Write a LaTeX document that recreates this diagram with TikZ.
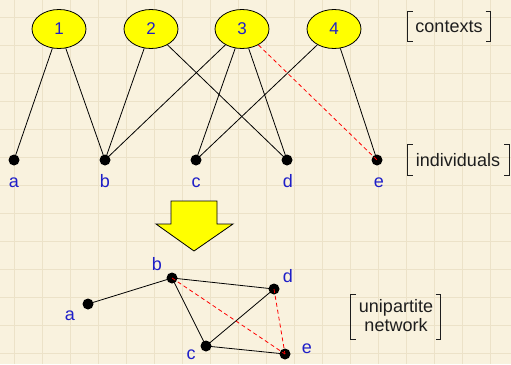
\documentclass[tikz,border=0pt]{standalone}
\usepackage{fontspec}
\setmainfont{Liberation Sans}
\usetikzlibrary{shapes.geometric}
\definecolor{paper}{RGB}{249,242,222}
\definecolor{gridc}{RGB}{236,226,200}
\definecolor{lblue}{RGB}{30,30,200}
\definecolor{txt}{RGB}{30,30,30}
\definecolor{ctxyellow}{RGB}{255,255,0}
\begin{document}
\begin{tikzpicture}[x=1pt,y=-1pt,
  ctx/.style={ellipse,draw=black,line width=0.8pt,fill=ctxyellow,minimum width=54pt,minimum height=39pt,inner sep=0pt,text=lblue,font=\fontsize{17}{19}\selectfont},
  dot/.style={circle,fill=black,minimum size=11pt,inner sep=0pt},
  lbl/.style={text=lblue,font=\fontsize{18}{20}\selectfont,inner sep=0pt,anchor=base},
  tag/.style={text=txt,font=\fontsize{18}{20}\selectfont,inner sep=0pt,align=center},
  edge/.style={black,line width=0.8pt},
  redge/.style={red,line width=0.8pt,dash pattern=on 4pt off 3pt},
  brk/.style={txt,line width=1pt}]
\fill[paper] (0,0) rectangle (511,364);
\useasboundingbox (0,0) rectangle (511,364);
\foreach \gx in {14,42,...,511} \draw[gridc,line width=0.6pt] (\gx,0) -- (\gx,364);
\foreach \gy in {17,45,...,364} \draw[gridc,line width=0.6pt] (0,\gy) -- (511,\gy);

% contexts
\node[ctx] (c1) at (59,29) {1};
\node[ctx] (c2) at (151,29) {2};
\node[ctx] (c3) at (242,29) {3};
\node[ctx] (c4) at (334,29) {4};

% individuals
\node[dot] (ia) at (14,160) {};
\node[dot] (ib) at (105,160) {};
\node[dot] (ic) at (196,160) {};
\node[dot] (id) at (287,160) {};
\node[dot] (ie) at (377,160) {};
\node[lbl] (la) at (14,187) {a};
\node[lbl] (lb) at (105,187) {b};
\node[lbl] (lc) at (196,187) {c};
\node[lbl] (ld) at (288,187) {d};
\node[lbl] (le) at (379,187) {e};

\draw[edge] (c1) -- (ia.center);
\draw[edge] (c1) -- (ib.center);
\draw[edge] (c2) -- (ib.center);
\draw[edge] (c2) -- (id.center);
\draw[edge] (c3) -- (ib.center);
\draw[edge] (c3) -- (ic.center);
\draw[edge] (c3) -- (id.center);
\draw[edge] (c4) -- (ic.center);
\draw[edge] (c4) -- (ie.center);
\draw[redge] (c3) -- (ie.center);

% tags
\node[tag] (tctx) at (449,27) {contexts};
\draw[brk] (412.5,11) -- (407.3,11) -- (407.3,41) -- (412.5,41);
\draw[brk] (485.5,11) -- (490.7,11) -- (490.7,41) -- (485.5,41);
\node[tag] (tind) at (458,160) {individuals};
\draw[brk] (412.5,144) -- (407.3,144) -- (407.3,175) -- (412.5,175);
\draw[brk] (504,144) -- (509.3,144) -- (509.3,175) -- (504,175);
\node[tag] (tuni) at (396,316) {unipartite\\[-1pt]network};
\draw[brk] (356,294) -- (350.7,294) -- (350.7,339) -- (356,339);
\draw[brk] (435.5,294) -- (440.7,294) -- (440.7,339) -- (435.5,339);

% big arrow
\draw[black,line width=0.8pt,fill=ctxyellow] (171,201) -- (217,201) -- (217,224) -- (233,224) -- (194,251) -- (156,224) -- (171,224) -- cycle;

% unipartite network
\node[dot] (na) at (88,304) {};
\node[dot] (nb) at (172,278) {};
\node[dot] (nc) at (206,346) {};
\node[dot] (nd) at (274,289) {};
\node[dot] (ne) at (285,354) {};
\node[lbl] (nla) at (70,320) {a};
\node[lbl] (nlb) at (157,270) {b};
\node[lbl] (nlc) at (191,359.5) {c};
\node[lbl] (nld) at (288,282) {d};
\node[lbl] (nle) at (307,353.5) {e};

\draw[edge] (na.center) -- (nb.center);
\draw[edge] (nb.center) -- (nd.center);
\draw[edge] (nb.center) -- (nc.center);
\draw[edge] (nc.center) -- (nd.center);
\draw[edge] (nc.center) -- (ne.center);
\draw[redge] (nb.center) -- (ne.center);
\draw[redge] (nd.center) -- (ne.center);
\end{tikzpicture}
\end{document}
